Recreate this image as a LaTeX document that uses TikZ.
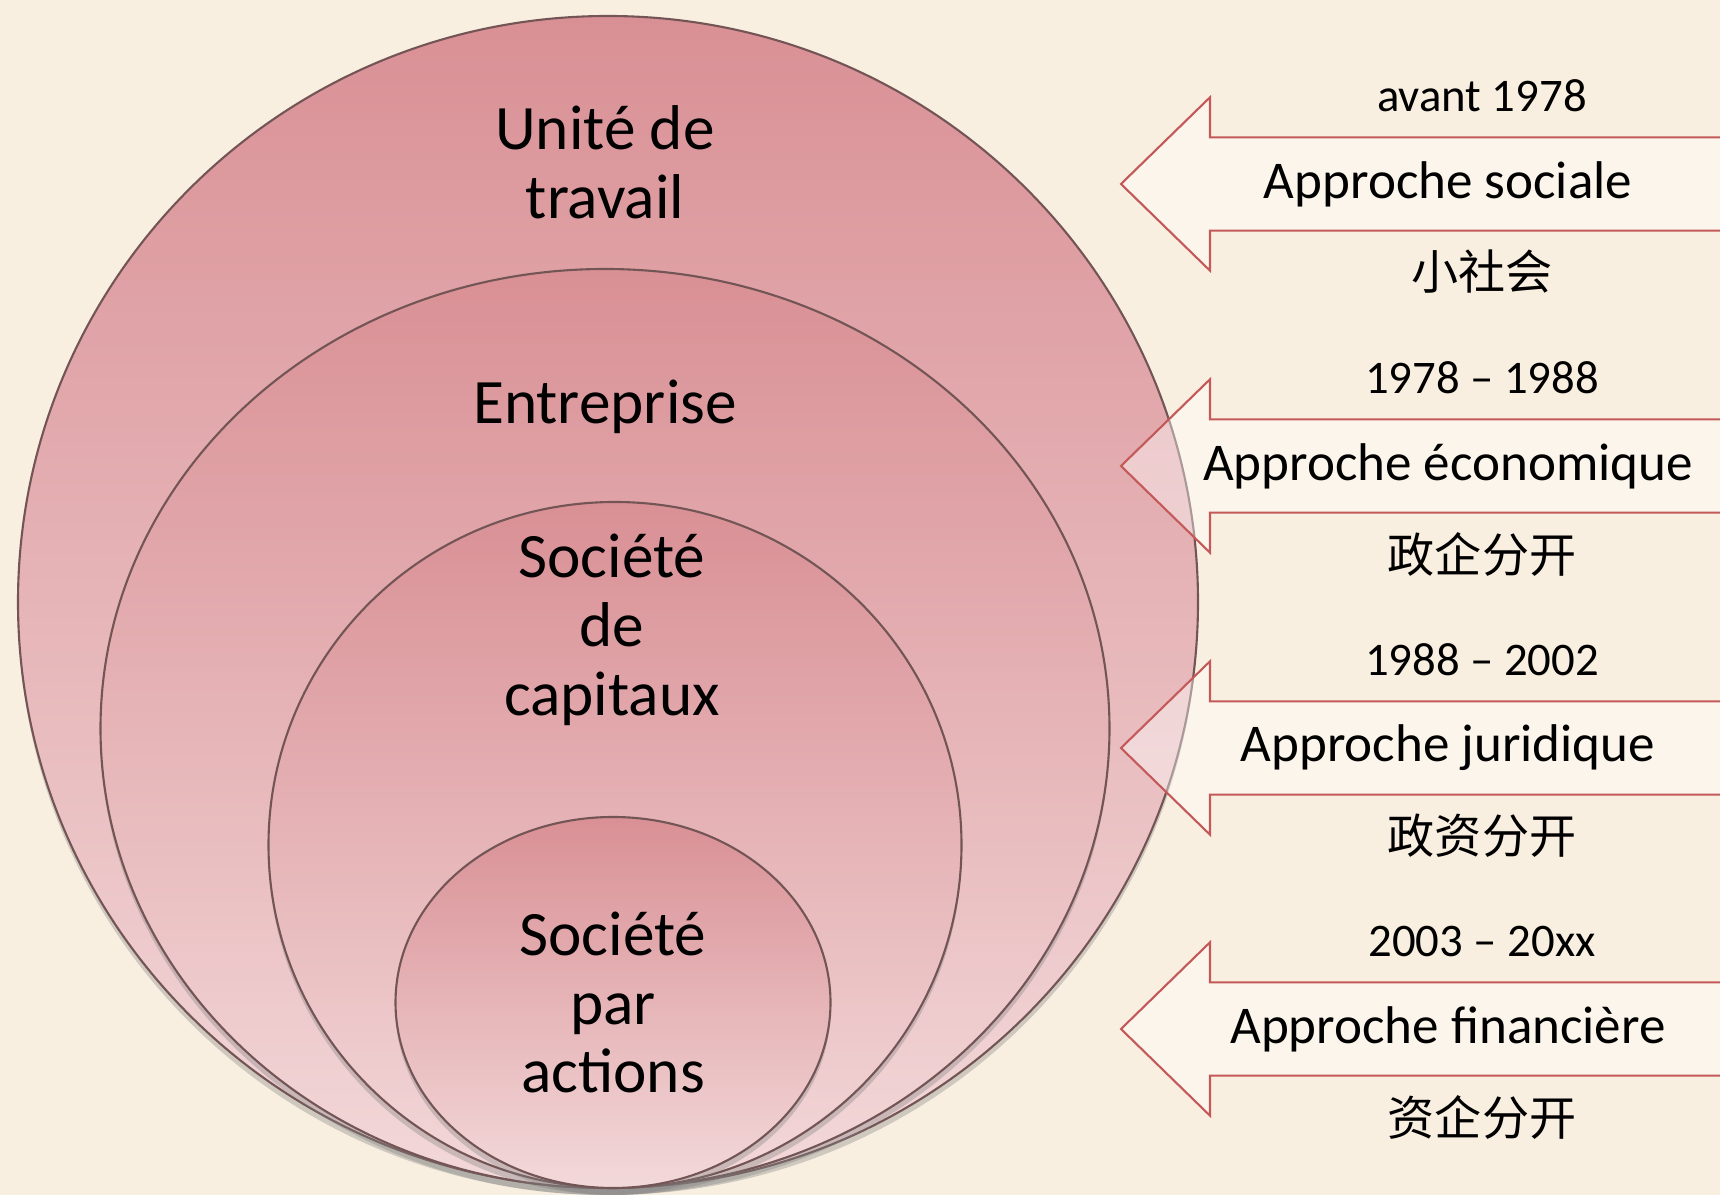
\documentclass[tikz,border=0pt]{standalone}
\usepackage{fontspec}
\setmainfont{Carlito}
\newfontfamily\cjk{Noto Sans CJK SC}
\usepackage{tikz}
\usetikzlibrary{positioning,shapes.geometric,shadows}
\definecolor{bg}{RGB}{249,239,224}
\definecolor{ringtop}{RGB}{217,144,149}
\definecolor{ringbot}{RGB}{243,217,218}
\definecolor{ringline}{RGB}{115,85,85}
\definecolor{arrowline}{RGB}{196,89,89}
\tikzstyle{ring}=[ellipse,draw=ringline,line width=0.6pt,inner sep=0,top color=ringtop,bottom color=ringbot,drop shadow={shadow xshift=0pt,shadow yshift=-2pt,opacity=0.35}]
\tikzstyle{ringtext}=[align=center,font=\fontsize{18}{19.6}\selectfont]
\tikzstyle{blockarrow}=[draw=arrowline,line width=0.6pt,fill=white,fill opacity=0.4]
\tikzstyle{yeartext}=[font=\fontsize{13.3}{15}\selectfont]
\tikzstyle{appr}=[font=\fontsize{15.1}{17}\selectfont]
\tikzstyle{zhtext}=[font=\cjk\fontsize{13.4}{15}\selectfont]

\begin{document}
\begin{tikzpicture}[>=latex]
	\path[use as bounding box,fill=bg] (0,0) rectangle (17.2,11.95);
	% nested rings
	\node[ring,minimum width=11.8cm,minimum height=11.72cm](uni) at (6.08,5.93){};
	\node[ring,minimum width=10.09cm,minimum height=9.19cm,anchor=south](ent) at ([xshift=-0.03cm]uni.south){};
	\node[ring,minimum width=6.93cm,minimum height=6.86cm,anchor=south](cap) at ([xshift=0.07cm]uni.south){};
	\node[ring,minimum width=4.35cm,minimum height=3.71cm,anchor=south](act) at ([xshift=0.05cm]uni.south){};
	\node[ringtext](unilbl) at ([yshift=-1.47cm,xshift=-0.03cm]uni.north){Unité de\\travail};
	\node[ringtext](entlbl) at ([yshift=-1.39cm]ent.north){Entreprise};
	\node[ringtext](caplbl) at ([yshift=-1.29cm,xshift=-0.03cm]cap.north){Société\\de\\capitaux};
	\node[ringtext](actlbl) at (act.center){Société\\par\\actions};
	% approaches
	\foreach \y/\per/\ap/\zh [count=\i] in {10.11/avant 1978/Approche sociale/小社会,7.29/1978 – 1988/Approche économique/政企分开,4.47/1988 – 2002/Approche juridique/政资分开,1.66/2003 – 20xx/Approche financière/资企分开}{
		\coordinate (tip\i) at (11.21,\y);
		\draw[blockarrow](tip\i) -- ++(0.89,0.867) -- ++(0,-0.401) -- ++(5.3,0) -- ++(0,-0.932) -- ++(-5.3,0) -- ++(0,-0.401) -- cycle;
		\node[yeartext](per\i) at ([shift={(3.61,0.88)}]tip\i){\per};
		\node[appr](ap\i) at ([shift={(3.27,0)}]tip\i){\ap};
		\node[zhtext](zh\i) at ([shift={(3.61,-0.88)}]tip\i){\zh};
	}
\end{tikzpicture}
\end{document}
